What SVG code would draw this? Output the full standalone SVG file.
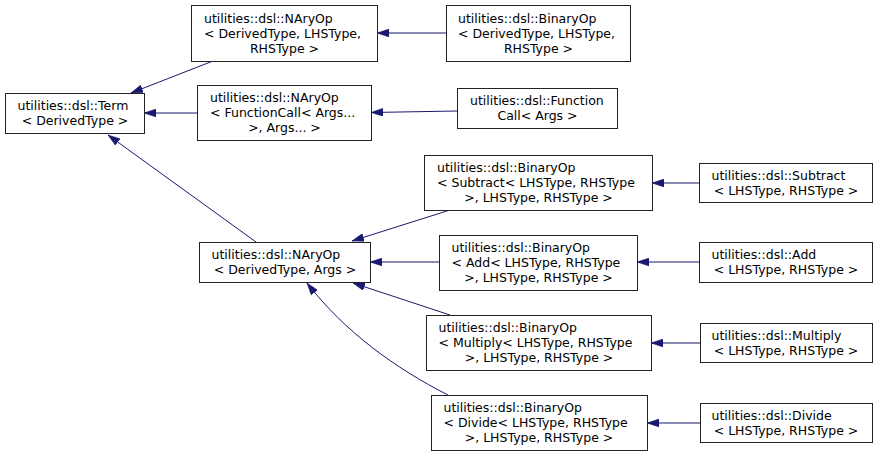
<svg xmlns="http://www.w3.org/2000/svg" width="877" height="456" viewBox="0 0 877 456">
<defs>
<marker id="ah" markerUnits="userSpaceOnUse" markerWidth="12" markerHeight="8" refX="12" refY="4" orient="auto">
<path d="M0,0 L12,4 L0,8 z" fill="#191970" stroke="#191970" stroke-width="0.5"/>
</marker>
</defs>
<style>
.bg{fill:#ffffff}
.box{fill:#ffffff;stroke:#222222;stroke-width:1}
text{font-family:"DejaVu Sans","Liberation Sans",sans-serif;font-size:12.5px;fill:#000000}
.c{text-anchor:middle}
.e{fill:none;stroke:#191970;stroke-width:1;marker-end:url(#ah)}
</style>
<rect class="bg" x="0" y="0" width="877" height="456"/>
<g id="edges">
<path class="e" d="M213,61 L131,93"/>
<path class="e" d="M197,113 L144,113"/>
<path class="e" d="M256,242 L108,135"/>
<path class="e" d="M446,33 L377,33"/>
<path class="e" d="M457,111 L371,112.5"/>
<path class="e" d="M450,210 L352,241"/>
<path class="e" d="M439,262 L370,262"/>
<path class="e" d="M450,315 L353,283"/>
<path class="e" d="M448,395 C395,368 345,332 307,283"/>
<path class="e" d="M699,183 L652,183"/>
<path class="e" d="M699,262 L637,262"/>
<path class="e" d="M700,343 L651,343"/>
<path class="e" d="M700,423 L647,423"/>
</g>
<g id="term">
<rect class="box" x="5.5" y="93.5" width="139" height="40"/>
<text x="17.5" y="110">utilities::dsl::Term</text>
<text class="c" x="75" y="125">&lt; DerivedType &gt;</text>
</g>
<g id="nary_dt_lhs_rhs">
<rect class="box" x="191.5" y="5.5" width="186" height="56"/>
<text x="204" y="22.5">utilities::dsl::NAryOp</text>
<text x="204" y="37.5">&lt; DerivedType, LHSType,</text>
<text class="c" x="284.5" y="52.5">RHSType &gt;</text>
</g>
<g id="binop_dt">
<rect class="box" x="446.5" y="5.5" width="184" height="56"/>
<text x="458" y="22.5">utilities::dsl::BinaryOp</text>
<text x="458" y="37.5">&lt; DerivedType, LHSType,</text>
<text class="c" x="538.5" y="52.5">RHSType &gt;</text>
</g>
<g id="nary_fc">
<rect class="box" x="197.5" y="85.5" width="174" height="55"/>
<text x="210" y="102">utilities::dsl::NAryOp</text>
<text x="210" y="117">&lt; FunctionCall&lt; Args...</text>
<text class="c" x="284.5" y="132">&gt;, Args... &gt;</text>
</g>
<g id="functioncall">
<rect class="box" x="457.5" y="88.5" width="160" height="40"/>
<text x="470" y="105">utilities::dsl::Function</text>
<text class="c" x="537.5" y="120">Call&lt; Args &gt;</text>
</g>
<g id="nary_dt_args">
<rect class="box" x="199.5" y="242.5" width="171" height="40"/>
<text x="211.5" y="259">utilities::dsl::NAryOp</text>
<text class="c" x="285" y="274">&lt; DerivedType, Args &gt;</text>
</g>
<g id="binop_sub">
<rect class="box" x="424.5" y="155.5" width="228" height="55"/>
<text x="437" y="172">utilities::dsl::BinaryOp</text>
<text x="437" y="187">&lt; Subtract&lt; LHSType, RHSType</text>
<text class="c" x="538.5" y="202">&gt;, LHSType, RHSType &gt;</text>
</g>
<g id="subtract">
<rect class="box" x="699.5" y="163.5" width="173" height="39"/>
<text x="711.5" y="180">utilities::dsl::Subtract</text>
<text class="c" x="786" y="195">&lt; LHSType, RHSType &gt;</text>
</g>
<g id="binop_add">
<rect class="box" x="439.5" y="235.5" width="198" height="55"/>
<text x="451.5" y="252">utilities::dsl::BinaryOp</text>
<text x="451.5" y="267">&lt; Add&lt; LHSType, RHSType</text>
<text class="c" x="538.5" y="282">&gt;, LHSType, RHSType &gt;</text>
</g>
<g id="add">
<rect class="box" x="699.5" y="242.5" width="173" height="40"/>
<text x="711.5" y="259">utilities::dsl::Add</text>
<text class="c" x="786" y="274">&lt; LHSType, RHSType &gt;</text>
</g>
<g id="binop_mul">
<rect class="box" x="426.5" y="315.5" width="225" height="55"/>
<text x="438.5" y="332">utilities::dsl::BinaryOp</text>
<text x="438.5" y="347">&lt; Multiply&lt; LHSType, RHSType</text>
<text class="c" x="539" y="362">&gt;, LHSType, RHSType &gt;</text>
</g>
<g id="multiply">
<rect class="box" x="700.5" y="323.5" width="172" height="39"/>
<text x="711.5" y="340">utilities::dsl::Multiply</text>
<text class="c" x="786" y="355">&lt; LHSType, RHSType &gt;</text>
</g>
<g id="binop_div">
<rect class="box" x="431.5" y="395.5" width="216" height="55"/>
<text x="443.5" y="412">utilities::dsl::BinaryOp</text>
<text x="443.5" y="427">&lt; Divide&lt; LHSType, RHSType</text>
<text class="c" x="539" y="442">&gt;, LHSType, RHSType &gt;</text>
</g>
<g id="divide">
<rect class="box" x="700.5" y="403.5" width="172" height="39"/>
<text x="711.5" y="420">utilities::dsl::Divide</text>
<text class="c" x="786" y="435">&lt; LHSType, RHSType &gt;</text>
</g>
</svg>
